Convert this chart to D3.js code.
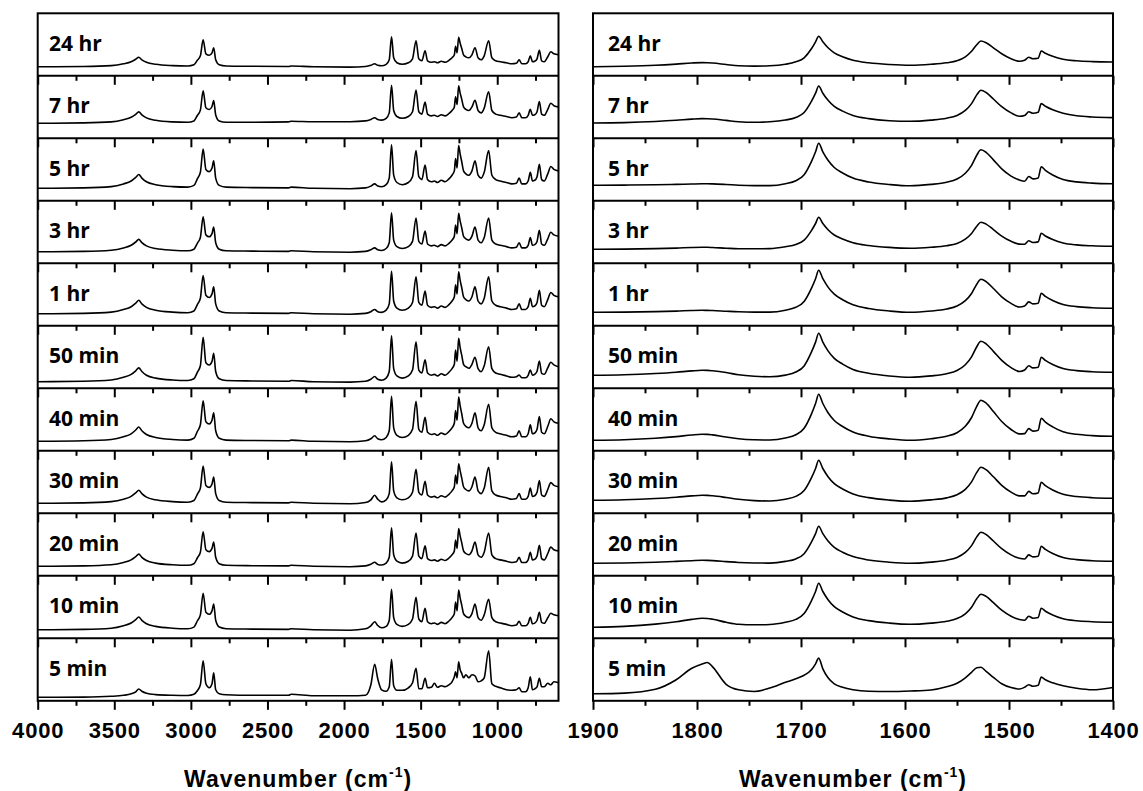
<!DOCTYPE html>
<html><head><meta charset="utf-8">
<script src="https://cdn.jsdelivr.net/npm/d3@7"></script>
<style>body{margin:0;background:#fff}</style>
</head><body>
<svg id="chart" width="1143" height="791"></svg>
<script>
// ---------- DATA ----------
const timeLabels = ["24 hr","7 hr","5 hr","3 hr","1 hr","50 min","40 min","30 min","20 min","10 min","5 min"];

// full-range spectra (4000-600 cm-1), relative absorbance (a.u.)
const wnFull = [4000,3700,3520,3440,3390,3360,3340,3320,3290,3230,
3120,3020,2980,2958,2938,2920,2902,2880,2862,2851,
2838,2815,2770,2600,2362,2345,2200,1960,1860,1825,
1800,1780,1755,1725,1705,1690,1676,1655,1620,1580,
1553,1530,1512,1492,1471,1455,1430,1410,1390,1365,
1340,1315,1295,1280,1272,1262,1252,1242,1232,1220,
1205,1185,1165,1145,1125,1105,1085,1056,1035,1010,
980,940,905,875,857,840,815,798,784,770,
755,740,725,710,693,670,650,630,600];

const full24hr = [0,0.3,1.2,3,5,7.5,9.5,7,4.5,2.5,
1.2,0.8,2,6.5,11,27,13,11.5,14,19,
7,2,0.8,0.5,0.3,0.8,0,-0.3,0.3,1.5,
3,1.5,1,2.5,7,30,9,4,2.5,4,
8,26,8,6,16,6,4.5,5,4,5.5,
4.5,6.5,9,12,20.5,14,29.5,23.5,18.5,12,
10,9,12,19,9,7,11,26,9,6,
5,4,3,3.5,7,3,3,5,11,5,
5.5,8,16.5,6,5,10,15,13,12];
const full7hr = [6,6.4,7.4,9.6,12,15,17.4,14.4,11.4,9,
7.4,7,8.4,13.8,19.2,38.4,21.6,19.8,22.8,28.8,
14.4,8.4,7,7,7.4,8,7.5,7.6,8.4,9.8,
11.6,9.8,9.2,11,16.4,44,18.8,12.8,11,12.8,
17.6,39.2,17.6,15.2,27.2,15.2,13.4,14,12.8,14.6,
13.4,15.8,18.8,22.4,32.6,24.8,43.4,36.2,30.2,22.4,
20,18.8,22.4,29,18.8,16.4,21.2,37.5,18.8,15.2,
14,12.8,11.6,12.2,16.4,11.6,11.6,14,20,14,
14.6,17.6,27.8,15.2,14,20,26,23.6,22.4];
const full5hr = [3.5,3.9,5.2,7.9,10.8,14.4,17.3,13.7,10,7.1,
5.2,4.7,6.4,12.9,19.5,42.7,22.4,20.2,23.8,31.1,
13.7,6.4,4.7,4.2,3.9,4.7,3.5,3.1,3.9,5.7,
7.9,5.7,5,7.1,13.7,47,16.6,9.3,7.1,9.3,
15.1,41.2,15.1,12.2,26.7,12.2,10,10.8,9.3,11.5,
10,12.9,16.6,20.9,33.2,23.8,46.3,37.6,30.3,20.9,
18,16.6,20.9,31.1,16.6,13.7,19.5,41.2,16.6,12.2,
10.8,9.3,7.9,8.6,13.7,7.9,7.9,10.8,19.5,10.8,
11.5,15.1,27.4,12.2,10.8,18,25.3,22.4,20.9];
const full3hr = [2.5,2.9,4.1,6.4,9,12.3,14.9,11.6,8.4,5.8,
4.1,3.5,5.1,11,16.8,37.6,19.4,17.5,20.7,27.2,
11.6,5.1,3.5,3.2,2.9,3.5,2.5,2.1,2.9,4.5,
6.4,4.5,3.8,5.8,11.6,41.5,14.2,7.7,5.8,7.7,
12.9,36.3,12.9,10.3,23.3,10.3,8.4,9,7.7,9.7,
8.4,11,14.2,18.1,29.2,20.7,40.9,33.1,26.6,18.1,
15.5,14.2,18.1,27.2,14.2,11.6,16.8,36.3,14.2,10.3,
9,7.7,6.4,7.1,11.6,6.4,6.4,9,16.8,9,
9.7,12.9,24,10.3,9,15.5,22,19.4,18.1];
const full1hr = [3,3.4,4.7,7.3,10.1,13.7,16.5,12.9,9.4,6.6,
4.7,4.1,5.8,12.2,18.6,41.3,21.5,19.3,22.9,30,
12.9,5.8,4.1,3.7,3.4,4.1,3,2.6,3.4,5.1,
7.3,5.1,4.4,6.6,12.9,45.6,15.8,8.7,6.6,8.7,
14.4,39.9,14.4,11.5,25.7,11.5,9.4,10.1,8.7,10.8,
9.4,12.2,15.8,20,32.1,22.9,44.9,36.4,29.3,20,
17.2,15.8,20,30,15.8,12.9,18.6,39.9,15.8,11.5,
10.1,8.7,7.3,8,12.9,7.3,7.3,10.1,18.6,10.1,
10.8,14.4,26.4,11.5,10.1,17.2,24.3,21.5,20];
const full50min = [-2.4,-2,-0.7,2,4.9,8.5,11.4,7.8,4.1,1.2,
-0.7,-1.2,0.5,7,13.5,42,16.5,14.3,17.9,26,
7.8,0.5,-1.2,-1.7,-2,-1.2,-2.4,-2.8,-2,0,
2.8,0,-0.9,1.2,7.8,43.6,10.7,3.4,1.2,3.4,
9.2,37.6,9.2,6.3,19.6,6.3,4.1,4.9,3.4,5.6,
4.1,7,10.7,15,29.3,18,41,31.7,24.4,15,
12.6,11,15,22,10.6,7.6,13.5,32.6,10.6,6.3,
5,3.4,2,2.6,4.3,1.5,1.5,4,9.3,4,
4.9,8,18.3,6,5,11.5,17,14.5,12.6];
const full40min = [0.5,1,2.3,5,8,11.8,14.8,11,7.3,4.3,
2.3,1.7,3.5,10.3,17,41,20,17.8,21.5,29,
11,3.5,1.7,1.3,1,1.7,0.5,0.1,1,3,
6,3,2,4.3,11,45.5,14,6.5,4.3,6.5,
12.5,40.5,12.5,9.5,24.5,9.5,7.3,8,6.5,8.8,
7.3,10.3,14,18.5,31.3,21.5,44.8,35.8,28.3,18.5,
15.5,14,18.5,29,14,11,17,37.5,14,9.5,
8,6.5,5,5.8,11,5,5,8,17,8,
8.8,12.5,25.3,9.5,8,15.5,23,20,18.5];
const full30min = [1,1.4,2.7,5.1,7.9,11.4,14.1,10.7,7.2,4.5,
2.7,2.1,3.8,10,16.2,38.3,18.9,16.9,20.3,27.2,
10.7,3.8,2.1,1.7,1.4,2.1,1,0.6,1.8,4.5,
9,5,2.4,4.5,10.7,42.4,13.4,6.5,4.5,6.5,
12,35,12,9.3,23.1,9.3,7.2,7.9,6.5,8.6,
7.2,10,13.4,17.6,29.3,20.3,40.5,33.4,26.5,17.6,
14.8,13.4,17.6,27.2,13.4,10.7,16.2,36.9,13.4,9.3,
7.9,6.5,5.1,5.8,10.7,5.1,5.1,7.9,16.2,7.9,
8.6,12,23.8,9.3,7.9,14.8,21.7,18.9,17.6];
const full20min = [0.5,0.9,2,4.3,6.9,10.1,12.7,9.5,6.3,3.7,
2,1.5,3.1,8.8,14.6,35.1,17.1,15.2,18.4,24.8,
9.5,3.1,1.5,1.1,0.9,1.5,0.5,0.1,0.9,2.6,
4.5,2.4,1.8,3.7,9.5,38.9,12,5.6,3.7,5.6,
10.7,33.8,10.7,8.2,21,8.2,6.3,6.9,5.6,7.5,
6.3,8.8,12,15.9,26.7,18.4,38.3,30.6,24.2,15.9,
13.3,12,15.9,24.8,12,9.5,14.6,33.8,12,8.2,
6.9,5.6,4.3,5,9.5,4.3,4.3,6.9,14.6,6.9,
7.5,10.7,21.6,8.2,6.9,13.3,19.7,17.1,15.9];
const full10min = [-0.5,-0.1,1.1,3.6,6.3,9.6,12.3,9,5.6,2.9,
1.1,0.6,2.2,8.3,14.4,36,17.1,15,18.4,25.2,
9,2.2,0.6,0.2,-0.1,0.6,-0.5,-0.9,0.5,3.5,
7.5,3.8,1.5,2.9,9,40,11.7,4.9,2.9,4.9,
10.3,32,10.3,7.6,21.1,7.6,5.6,6.3,4.9,6.9,
5.6,8.3,11.7,15.7,27.2,18.4,39.3,31.2,24.5,15.7,
13,11.7,15.7,25.2,11.7,9,14.4,30,11.7,7.6,
6.3,4.9,3.6,4.2,8,3.6,3.6,6,12,5.5,
6.2,9,17,7,6,11.5,16,14.5,13.5];
const full5min = [-5.5,-5.3,-4.5,-3.5,-2,0,2.8,0.5,-1.5,-2.8,
-3.5,-3.7,-2.5,1,7,31,8,4,8,19,
2,-2,-3,-3.5,-3.5,-2.5,-4,-4,-3.5,7,
27.5,13,2,0.5,5,32.5,6,1.5,1.5,4,
9,23.5,3,3,13.5,4,4.5,8.5,4.5,6,
5,7,10,15,20,14,30,22,18.5,14,
17,14,17,16,10,11,14,41,8,5.5,
4,2,1.5,2,4,0,0,4,15,2,
3,5,13.5,5,5,8.5,7,10,9];

// amide region spectra (1900-1400 cm-1), relative absorbance (a.u.)
const wnAmide = [1900,1870,1840,1820,1805,1795,1790,1785,1772,1760,
1745,1730,1715,1705,1697,1690,1686,1683,1679,1674,
1668,1660,1650,1635,1615,1595,1575,1560,1550,1542,
1536,1531,1527,1522,1515,1507,1498,1490,1485,1481,
1477,1472,1469,1465,1458,1448,1435,1420,1400];

const amide24hr = [0,0.5,1.5,2.7,3.8,4.2,4.1,3.8,2.3,1,0.7,1,2.5,5,9,18,25,30.5,25,19,14,10,6.5,4,2.3,1.5,2.5,4,6,10,15.5,22,25.8,24,19,13,8,5.5,6.5,9.5,8,8.5,15.8,13.5,10.5,7.5,6,5.2,4.8];
const amide7hr = [6.3,6.7,7.8,9,10.2,10.7,10.6,10.3,8.9,7.5,7,7.5,9.3,11.8,16.8,27.9,36.1,43.3,36.1,29,22.9,18.2,13.9,10.7,8.6,8,9.2,11.1,13.9,18.9,25.7,34.4,39,36.8,30.3,22.6,16.4,13,13.8,17.5,16,17,25.7,23,19.5,16,13.5,12.3,11.7];
const amide5hr = [6.5,6.7,7,7.4,7.8,8,8,7.9,7.3,6.6,6.2,6.2,8.1,11.1,17.1,30.2,40,48.5,40,31.5,24.3,18.8,13.7,9.8,7.3,6,7.4,9.6,12.8,18.6,26.5,36.6,42,39.5,31.9,22.9,15.7,11.8,10.6,15.3,12.9,13.8,25,21.4,16.8,12.3,9.9,8.7,8];
const amide3hr = [5,5.2,5.7,6.2,6.8,7,7,6.8,6.1,5.6,5.5,5.7,7.6,9.7,14.1,23.7,30.8,37,30.8,24.6,19.3,15.3,11.6,8.8,6.9,6,7,8.6,10.9,15.1,20.8,28.1,32,30.2,24.7,18.2,13,10.2,10,13.6,11.8,12.4,21,18.3,14.8,11.3,9.4,8.5,8];
const amide1hr = [4.5,4.7,5.2,5.7,6.3,6.5,6.4,6.3,5.6,5,4.7,4.7,6.6,9.5,15.4,28.4,38.1,46.5,38.1,29.7,22.6,17.1,12.1,8.3,5.8,4.5,5.8,7.8,10.8,16.1,23.3,32.6,37.5,35.2,28.3,20,13.4,9.8,10.8,14.9,12.9,13.6,23.5,20.4,16.3,12.3,10.2,9.1,8.5];
const amide50min = [4,4.5,5.8,7.1,8.4,9,8.9,8.5,6.8,4.5,3,2.5,4.2,7.3,13.4,27.1,37.2,46,37.2,28.4,20.9,15.2,9.9,6,3.3,2,3.4,5.6,8.8,14.6,22.5,32.6,38,35.5,27.9,18.9,11.7,7.8,9.3,13.5,11.4,12.1,22,18.9,14.8,10.8,8.7,7.6,7];
const amide40min = [1.5,2.1,3.6,5.2,6.8,7.5,7.4,6.9,4.8,3,2,1.8,3.8,7,13.5,27.7,38.3,47.5,38.3,29.1,21.3,15.3,9.8,5.6,2.9,1.5,3.1,5.5,9.1,15.5,24.3,35.5,41.5,38.7,30.3,20.3,12.3,7.9,8.2,13.2,10.7,11.6,23.5,19.7,14.9,10,7.5,6.2,5.5];
const amide30min = [4,4.5,5.8,7.1,8.4,9,8.9,8.5,6.8,5,3.7,3.3,5.1,7.9,13.7,26.4,35.8,44,35.8,27.6,20.6,15.3,10.4,6.7,4.2,3,4.4,6.4,9.5,14.9,22.4,31.9,37,34.6,27.5,19,12.2,8.4,8.4,12.9,10.6,11.4,22,18.6,14.3,10,7.8,6.6,6];
const amide20min = [3.5,3.8,4.6,5.4,6.1,6.5,6.4,6.2,5.2,4.3,3.8,3.7,5.4,7.9,13.1,24.6,33.1,40.5,33.1,25.7,19.4,14.6,10.2,6.8,4.6,3.5,4.7,6.6,9.4,14.4,21.2,29.9,34.5,32.3,25.8,18.1,11.9,8.5,7.8,11.9,9.9,10.6,20.5,17.4,13.3,9.3,7.2,6.1,5.5];
const amide10min = [2,2.9,5.2,7.6,9.9,11,10.8,10.1,7,5,4.5,4.8,7.1,9.9,15.7,28.4,37.8,46,37.8,29.6,22.6,17.3,12.4,8.7,6.2,5,6.2,8,10.7,15.5,22.1,30.5,35,32.9,26.6,19.1,13.1,9.8,9.1,13,11.1,11.8,21,18.1,14.3,10.5,8.5,7.6,7];
const amide5min = [-2,-1.3,2.5,12,23.5,27.8,29.3,25,7.5,2,0.3,3.7,9.5,13,16.5,22,28,33.7,23,14,8,4.5,2,0.5,0.3,0.8,1.8,5,8.5,14,19.5,24,24.5,20.5,14.5,8,4.2,2.8,4.5,7,5.5,6.5,14.7,12,9,6,3.5,2,4.3];

const fullMajorTicks = [4000,3500,3000,2500,2000,1500,1000];
const fullMinorTicks = [3750,3250,2750,2250,1750,1250,750];
const amideMajorTicks = [1900,1800,1700,1600,1500,1400];
const amideMinorTicks = [1850,1750,1650,1550,1450];
const axisTitleMain = "Wavenumber (cm";
const axisTitleSup = "-1";

const fullSeries = [full24hr,full7hr,full5hr,full3hr,full1hr,full50min,full40min,full30min,full20min,full10min,full5min];
const amideSeries = [amide24hr,amide7hr,amide5hr,amide3hr,amide1hr,amide50min,amide40min,amide30min,amide20min,amide10min,amide5min];

// ---------- DRAW ----------
const svg = d3.select("#chart");
svg.append("rect").attr("width",1143).attr("height",791).attr("fill","#fff");

const top0 = 13.3, bottom0 = 700.8, nSub = timeLabels.length;
const subH = (bottom0 - top0) / nSub;

const panels = [
  {x0:37.7, x1:558.5, domain:[4000,600], wn:wnFull, series:fullSeries, major:fullMajorTicks, minor:fullMinorTicks, labelX:49, id:"f"},
  {x0:593, x1:1113, domain:[1900,1400], wn:wnAmide, series:amideSeries, major:amideMajorTicks, minor:amideMinorTicks, labelX:608, id:"a"}
];

panels.forEach(p => {
  const x = d3.scaleLinear().domain(p.domain).range([p.x0, p.x1]);
  const g = svg.append("g");

  timeLabels.forEach((lab, i) => {
    const top = top0 + i*subH, bottom = top + subH;
    const y = d3.scaleLinear().domain([-9, 53.5]).range([bottom, top]);
    const cid = "clip-" + p.id + i;
    svg.append("clipPath").attr("id", cid).append("rect")
      .attr("x", p.x0).attr("y", top).attr("width", p.x1 - p.x0).attr("height", subH);

    const line = d3.line().x(d => x(d[0])).y(d => y(d[1])).curve(d3.curveMonotoneX);
    const pts = p.wn.map((w, j) => [w, p.series[i][j]]);
    g.append("path").attr("d", line(pts)).attr("clip-path", `url(#${cid})`)
      .attr("fill","none").attr("stroke","#000").attr("stroke-width",1.6).attr("stroke-linejoin","round");

    g.append("text").attr("x", p.labelX).attr("y", top + 37.5)
      .attr("font-family","'Open Sans', sans-serif").attr("font-weight","bold").attr("font-size",21)
      .attr("fill","#000").text(lab);

    // ticks on bottom edge of each sub-panel
    const majAx = d3.axisBottom(x).tickValues(p.major).tickSize(9).tickSizeOuter(0);
    const isLast = i === nSub - 1;
    if (!isLast) majAx.tickFormat("");
    else majAx.tickFormat(d3.format("d"));
    const ga = g.append("g").attr("transform", `translate(0,${bottom})`).call(majAx);
    ga.select(".domain").remove();
    ga.selectAll(".tick line").attr("stroke","#000").attr("stroke-width",2);
    if (isLast) {
      ga.selectAll(".tick text").attr("y", 37).attr("dy", 0)
        .attr("font-family","'Liberation Sans', Arial, sans-serif").attr("font-weight","bold")
        .attr("font-size",22).attr("letter-spacing","0.8px").attr("fill","#000");
    }
    const minAx = d3.axisBottom(x).tickValues(p.minor).tickSize(5).tickSizeOuter(0).tickFormat("");
    const gm = g.append("g").attr("transform", `translate(0,${bottom})`).call(minAx);
    gm.select(".domain").remove();
    gm.selectAll(".tick line").attr("stroke","#000").attr("stroke-width",2);

    if (i > 0) {
      g.append("line").attr("x1", p.x0).attr("x2", p.x1).attr("y1", top).attr("y2", top)
        .attr("stroke","#000").attr("stroke-width",2);
    }
  });

  g.append("rect").attr("x", p.x0).attr("y", top0).attr("width", p.x1 - p.x0).attr("height", bottom0 - top0)
    .attr("fill","none").attr("stroke","#000").attr("stroke-width",2);

  const t = g.append("text").attr("x", (p.x0 + p.x1)/2).attr("y", 787).attr("text-anchor","middle")
    .attr("font-family","'Liberation Sans', Arial, sans-serif").attr("font-weight","bold")
    .attr("font-size",23).attr("letter-spacing","1px").attr("fill","#000");
  t.append("tspan").text(axisTitleMain);
  t.append("tspan").attr("font-size",14).attr("dy",-10).text(axisTitleSup);
  t.append("tspan").attr("dy",10).text(")");
});
</script>
</body></html>
